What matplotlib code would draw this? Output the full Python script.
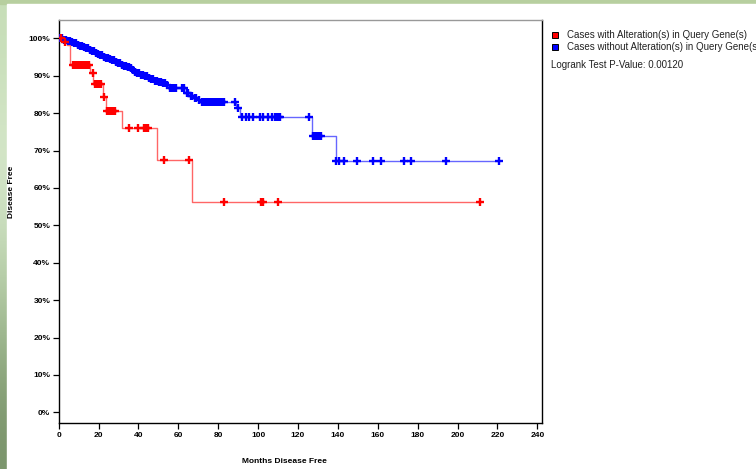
import numpy as np
import matplotlib
matplotlib.use("Agg")
import matplotlib.pyplot as plt
from matplotlib.patches import Rectangle
from matplotlib.lines import Line2D

plt.rcParams['font.family'] = ['Liberation Sans', 'DejaVu Sans']

# ---- data ----
red_event_times = [2, 4, 5.7, 15.7, 17.4, 22, 23.6, 31.6, 49.5, 67]
red_event_surv = [99.1, 98.2, 93.0, 90.6, 87.8, 84.2, 80.7, 75.9, 67.5, 56.3]
red_censor_times = [1, 3, 7, 8, 9, 10, 11, 12, 13, 14, 15, 17, 18, 19, 20, 21,
                    22.5, 24, 25, 26, 27, 28, 35.4, 40, 43, 44, 45, 53, 65.5,
                    83, 101.5, 102.5, 110, 211.4]

blue_event_times = [2, 4, 6, 7, 9, 10, 12, 13, 15, 16, 18, 19, 20, 22, 23, 25,
                    26, 28, 29, 31, 32, 34, 36, 37, 38, 39, 41, 43, 45, 46, 48,
                    50, 52, 54, 55, 64, 66, 68, 70, 71, 89, 91, 127, 139]
blue_event_surv = [99.6, 99.3, 99.0, 98.7, 98.3, 98.0, 97.6, 97.3, 96.9, 96.6,
                   96.2, 95.9, 95.5, 95.1, 94.8, 94.4, 94.1, 93.7, 93.4, 93.0,
                   92.7, 92.4, 92.0, 91.6, 91.1, 90.6, 90.2, 89.8, 89.3, 89.0,
                   88.7, 88.4, 88.0, 87.4, 86.6, 85.3, 84.7, 84.1, 83.5, 83.0,
                   81.3, 78.9, 74.0, 67.3]
blue_censor_times = [0.5, 1, 1.5, 2.5, 3, 3.5, 4.5, 5, 5.5, 6.5, 7.5, 8, 8.5,
                     9.5, 10.5, 11, 11.5, 12.5, 13.5, 14, 14.5, 15.5, 16.5, 17,
                     17.5, 18.5, 19.5, 20.5, 21, 21.5, 22.5, 23.5, 24, 24.5,
                     25.5, 26.5, 27, 27.5, 28.5, 29.5, 30, 30.5, 31.5, 32.5, 33,
                     33.5, 34.5, 35, 35.5, 36.5, 37.5, 38.5, 39.5, 40, 40.5,
                     41.5, 42, 42.5, 43.5, 44, 44.5, 45.5, 46.5, 47, 47.5, 48.5,
                     49, 49.5, 50.5, 51, 51.5, 52.5, 53, 53.5, 54.5, 56, 57, 58,
                     59, 62, 63, 64.5, 65, 66.5, 67, 68.5, 69, 70.5, 72, 73, 74,
                     75, 76, 77, 78, 79, 80, 81, 82, 83, 88.5, 90, 92, 94, 95.5,
                     97.5, 101, 102.5, 105, 107, 108.5, 109.5, 110.5, 111, 125.5,
                     127.5, 128.5, 129.5, 130.5, 131.5, 139.2, 140.6, 143.3,
                     149.5, 157.4, 161.7, 172.9, 176.8, 194.2, 220.9]

x_ticks = [0, 20, 40, 60, 80, 100, 120, 140, 160, 180, 200, 220, 240]
y_ticks = [0, 10, 20, 30, 40, 50, 60, 70, 80, 90, 100]
legend_labels = ["Cases with Alteration(s) in Query Gene(s)",
                 "Cases without Alteration(s) in Query Gene(s)"]
pvalue_text = "Logrank Test P-Value: 0.00120"

W, H = 756, 469
fig = plt.figure(figsize=(W / 100, H / 100), dpi=100)

# background: green strip on left/top, white panel
bg = fig.add_axes([0, 0, 1, 1], zorder=-10)
bg.set_axis_off()
grad = np.array([[0.78, 0.87, 0.72], [0.86, 0.92, 0.82], [0.70, 0.80, 0.64],
                 [0.48, 0.58, 0.42]])
bg.imshow(grad[:, None, :], aspect='auto', extent=[0, 1, 0, 1],
          interpolation='bicubic')
bg.add_patch(Rectangle((7 / W, 0), 1 - 7 / W, 1 - 4 / H,
                       transform=bg.transAxes, color='white', zorder=2))
bg.add_patch(Rectangle((0, 1 - 4 / H), 1, 4 / H, transform=bg.transAxes,
                       color='#b7cf9f', zorder=1))
bg.set_xlim(0, 1)
bg.set_ylim(0, 1)

left, right = 58.7 / W, 542.3 / W
bottom, top = 1 - 423.3 / H, 1 - 20 / H
ax = fig.add_axes([left, bottom, right - left, top - bottom])
ax.set_facecolor('none')


def km_steps(times, surv, end):
    xs, ys = [0], [100]
    for t, s in zip(times, surv):
        xs.append(t)
        ys.append(s)
    xs.append(end)
    ys.append(ys[-1])
    return xs, ys


def level_at(times, surv, t):
    v = 100
    for et, s in zip(times, surv):
        if et <= t:
            v = s
    return v


for times, surv, ctimes, col, ms in [
        (blue_event_times, blue_event_surv, blue_censor_times, '#0000ff', 6),
        (red_event_times, red_event_surv, red_censor_times, '#ff0000', 5.5)]:
    end = max(ctimes[-1], times[-1])
    xs, ys = km_steps(times, surv, end)
    ax.step(xs, ys, where='post', color=col, lw=1.0, alpha=0.6, zorder=3)
    cy = [level_at(times, surv, t) for t in ctimes]
    ax.plot(ctimes, cy, ls='none', marker='+', ms=ms, mew=1.7, color=col,
            zorder=4)

ax.set_xlim(0, 242.5)
ax.set_ylim(-2.94, 104.9)
ax.set_xticks(x_ticks)
ax.set_xticklabels([str(v) for v in x_ticks], fontsize=6, fontweight='bold')
ax.set_yticks(y_ticks)
ax.set_yticklabels([f"{v}%" for v in y_ticks], fontsize=6, fontweight='bold')
ax.tick_params(axis='both', direction='out', length=4, width=0.9, pad=2,
               colors='black')
for s in ['left', 'bottom', 'right']:
    ax.spines[s].set_color('black')
    ax.spines[s].set_linewidth(1.0)
ax.spines['top'].set_color('#999999')
ax.spines['top'].set_linewidth(1.0)

fig.text(284 / W, 1 - 461 / H, "Months Disease Free", ha='center',
         va='center', fontsize=6, fontweight='bold')
fig.text(12 / W, 1 - 192 / H, "Disease Free", ha='center', va='center',
         rotation=90, fontsize=6, fontweight='bold')

# legend drawn as text + square markers
for i, (lab, col) in enumerate(zip(legend_labels, ['#ff0000', '#0000ff'])):
    yy = 1 - (35 + 12 * i) / H
    fig.lines.append(Line2D([555 / W], [yy], transform=fig.transFigure,
                            marker='s', ms=5, mfc=col, mec='black', mew=0.7,
                            ls='none'))
    fig.text(567 / W, yy, lab, ha='left', va='center', fontsize=7,
             color='#222222')
fig.text(551 / W, 1 - 65 / H, pvalue_text, ha='left', va='center',
         fontsize=7, color='#222222')

fig.savefig("out.png", dpi=100)
